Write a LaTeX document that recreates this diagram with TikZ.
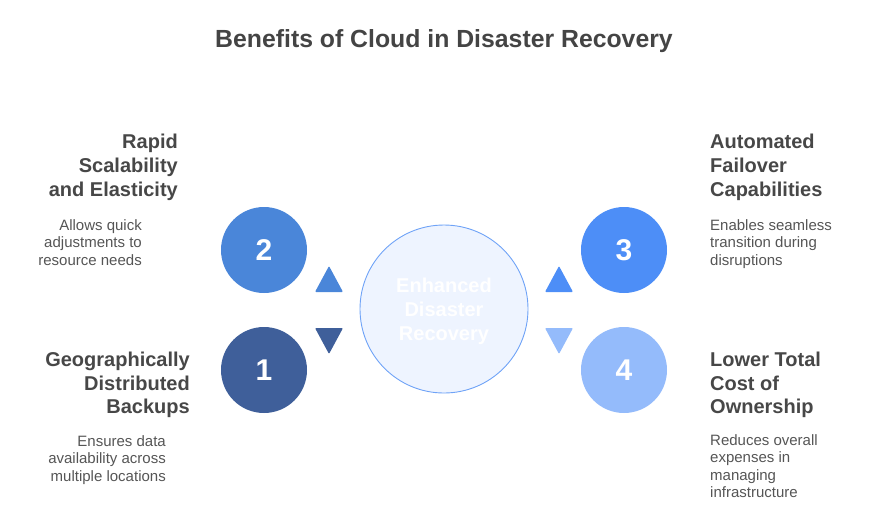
\documentclass[tikz,border=0pt]{standalone}
\usepackage{fontspec}
\setmainfont{Liberation Sans}
\definecolor{titlec}{HTML}{444444}
\definecolor{headc}{HTML}{474747}
\definecolor{descc}{HTML}{555555}
\definecolor{cone}{HTML}{3F5F9A}
\definecolor{ctwo}{HTML}{4A86D9}
\definecolor{cthree}{HTML}{4D8EF7}
\definecolor{cfour}{HTML}{94BBFB}
\definecolor{cfill}{HTML}{EEF4FF}
\definecolor{cline}{HTML}{6FA3F7}
\begin{document}
\begin{tikzpicture}[x=1pt,y=-1pt,
  head/.style={font=\fontsize{20}{24}\selectfont\bfseries, text=headc, inner sep=0},
  desc/.style={font=\fontsize{15}{17.5}\selectfont, text=descc, inner sep=0},
  num/.style={circle, minimum size=86pt, inner sep=0, font=\fontsize{30}{30}\selectfont\bfseries, text=white},
  tri/.style={rounded corners=1pt}]
\useasboundingbox (0,0) rectangle (888,504);

\node[anchor=base, inner sep=0, font=\fontsize{24.8}{28}\selectfont\bfseries, text=titlec] (title) at (444,47.5) {Benefits of Cloud in Disaster Recovery};

% center
\node[circle, minimum size=168pt, inner sep=0, fill=cfill, draw=cline, line width=0.9pt] (center) at (444,309) {};
\node[align=center, inner sep=0, font=\fontsize{20}{24}\selectfont\bfseries, text=white] (ctext) at (444,311) {Enhanced\\Disaster\\Recovery};

% number circles
\node[num, fill=ctwo] (n2) at (264,250) {2};
\node[num, fill=cone] (n1) at (264,370) {1};
\node[num, fill=cthree] (n3) at (624,250) {3};
\node[num, fill=cfour] (n4) at (624,370) {4};

% triangles
\fill[ctwo, tri] (315,292) -- (343,292) -- (329,266) -- cycle;
\fill[cone, tri] (315,328) -- (343,328) -- (329,354) -- cycle;
\fill[cthree, tri] (545,292) -- (573,292) -- (559,266) -- cycle;
\fill[cfour, tri] (545,328) -- (573,328) -- (559,354) -- cycle;

% left top
\node[head, anchor=base east] (h2a) at (178,148) {Rapid};
\node[head, anchor=base east] (h2b) at (178,172) {Scalability};
\node[head, anchor=base east] (h2c) at (178,196) {and Elasticity};
\node[desc, anchor=base east] (d2a) at (142,230) {Allows quick};
\node[desc, anchor=base east] (d2b) at (142,247.5) {adjustments to};
\node[desc, anchor=base east] (d2c) at (142,265) {resource needs};

% left bottom
\node[head, anchor=base east] (h1a) at (190,366.5) {Geographically};
\node[head, anchor=base east] (h1b) at (190,390) {Distributed};
\node[head, anchor=base east] (h1c) at (190,413.5) {Backups};
\node[desc, anchor=base east] (d1a) at (166,446) {Ensures data};
\node[desc, anchor=base east] (d1b) at (166,463.5) {availability across};
\node[desc, anchor=base east] (d1c) at (166,481) {multiple locations};

% right top
\node[head, anchor=base west] (h3a) at (710,148) {Automated};
\node[head, anchor=base west] (h3b) at (710,172) {Failover};
\node[head, anchor=base west] (h3c) at (710,196) {Capabilities};
\node[desc, anchor=base west] (d3a) at (710,230) {Enables seamless};
\node[desc, anchor=base west] (d3b) at (710,247.5) {transition during};
\node[desc, anchor=base west] (d3c) at (710,265) {disruptions};

% right bottom
\node[head, anchor=base west] (h4a) at (710,366.5) {Lower Total};
\node[head, anchor=base west] (h4b) at (710,390) {Cost of};
\node[head, anchor=base west] (h4c) at (710,413.5) {Ownership};
\node[desc, anchor=base west] (d4a) at (710,445) {Reduces overall};
\node[desc, anchor=base west] (d4b) at (710,462.5) {expenses in};
\node[desc, anchor=base west] (d4c) at (710,480) {managing};
\node[desc, anchor=base west] (d4d) at (710,497.5) {infrastructure};
\end{tikzpicture}
\end{document}
